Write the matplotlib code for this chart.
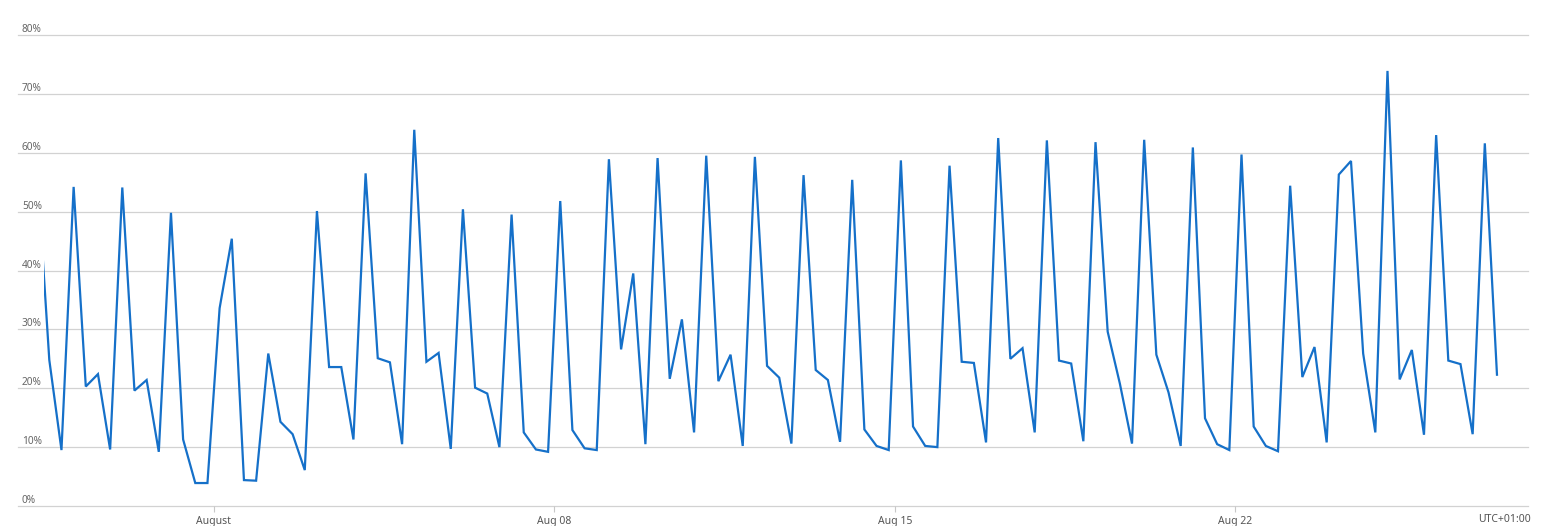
import numpy as np
import pandas as pd
import matplotlib
matplotlib.use("Agg")
import matplotlib.pyplot as plt
import matplotlib.dates as mdates
from matplotlib.patches import Rectangle

plt.rcParams['font.family'] = ['Noto Sans', 'DejaVu Sans']

# 6-hourly utilisation samples (%), first one lies just before the visible range
first_time = "2019-07-28 09:00"
range_start = "2019-07-28 12:30"
values = [
    57.0,
    24.8, 9.5, 54.2, 20.3, 22.4, 9.6, 54.1, 19.6, 21.4, 9.2,
    49.8, 11.3, 3.9, 3.9, 33.6, 45.4, 4.4, 4.3, 25.9, 14.3,
    12.2, 6.1, 50.1, 23.6, 23.6, 11.3, 56.5, 25.1, 24.4, 10.5,
    63.9, 24.5, 26.0, 9.7, 50.4, 20.1, 19.1, 10.0, 49.5, 12.5,
    9.6, 9.2, 51.8, 12.9, 9.8, 9.5, 58.9, 26.6, 39.5, 10.5,
    59.1, 21.6, 31.7, 12.5, 59.5, 21.2, 25.7, 10.2, 59.3, 23.8,
    21.8, 10.6, 56.2, 23.1, 21.4, 10.9, 55.4, 13.0, 10.2, 9.5,
    58.7, 13.5, 10.2, 10.0, 57.8, 24.5, 24.3, 10.8, 62.5, 25.0,
    26.8, 12.5, 62.1, 24.7, 24.2, 11.0, 61.8, 29.6, 20.8, 10.6,
    62.2, 25.7, 19.3, 10.2, 60.9, 14.9, 10.5, 9.5, 59.7, 13.5,
    10.2, 9.3, 54.4, 21.9, 27.0, 10.8, 56.3, 58.6, 25.9, 12.5,
    73.9, 21.5, 26.5, 12.1, 63.0, 24.7, 24.1, 12.2, 61.6, 22.3,
]
times = pd.date_range(first_time, periods=len(values), freq="6h")

tick_dates = ["2019-08-01", "2019-08-08", "2019-08-15", "2019-08-22"]
tick_labels = ["August", "Aug 08", "Aug 15", "Aug 22"]
y_ticks = [0, 10, 20, 30, 40, 50, 60, 70, 80]

W, H = 1547, 526
fig = plt.figure(figsize=(W / 100, H / 100), dpi=100)
ax = fig.add_axes([18 / W, 1 - 506 / H, (1528 - 18) / W, (506 - 35) / H])

line, = ax.plot(times, values, color="#1570c9", lw=1.6, solid_joinstyle="miter")

x0 = mdates.date2num(pd.Timestamp(first_time) + pd.Timedelta(hours=6) - pd.Timedelta(hours=6 * 2.573))
x1 = mdates.date2num(pd.Timestamp(first_time) + pd.Timedelta(hours=6) + pd.Timedelta(hours=6 * 121.55))
ax.set_xlim(x0, x1)
ax.set_ylim(0, 80)

# clip the series at the start of the queried time range
xs = mdates.date2num(pd.Timestamp(range_start))
clip = Rectangle((xs, -10), x1 - xs, 100, transform=ax.transData)
line.set_clip_path(clip)

for s in ax.spines.values():
    s.set_visible(False)
for v in y_ticks:
    ax.axhline(v, color="#d2d2d2", lw=0.9, zorder=0, clip_on=False)
    ax.annotate(f"{v}%", xy=(4 / (1528 - 18), v), xycoords=("axes fraction", "data"),
                xytext=(0, 0), textcoords="offset points", ha="left", va="bottom",
                fontsize=7.3, color="#666666")
ax.set_yticks([])

ax.set_xticks([mdates.date2num(pd.Timestamp(d)) for d in tick_dates])
ax.set_xticklabels(tick_labels)
ax.tick_params(axis="x", length=4, width=0.8, color="#c8c8c8", labelsize=7.5, labelcolor="#555555", pad=3)

fig.text(1531 / W, 1 - 519 / H, "UTC+01:00", ha="right", va="center", fontsize=7.5, color="#555555")

fig.savefig("out.png", dpi=100, facecolor="white")
